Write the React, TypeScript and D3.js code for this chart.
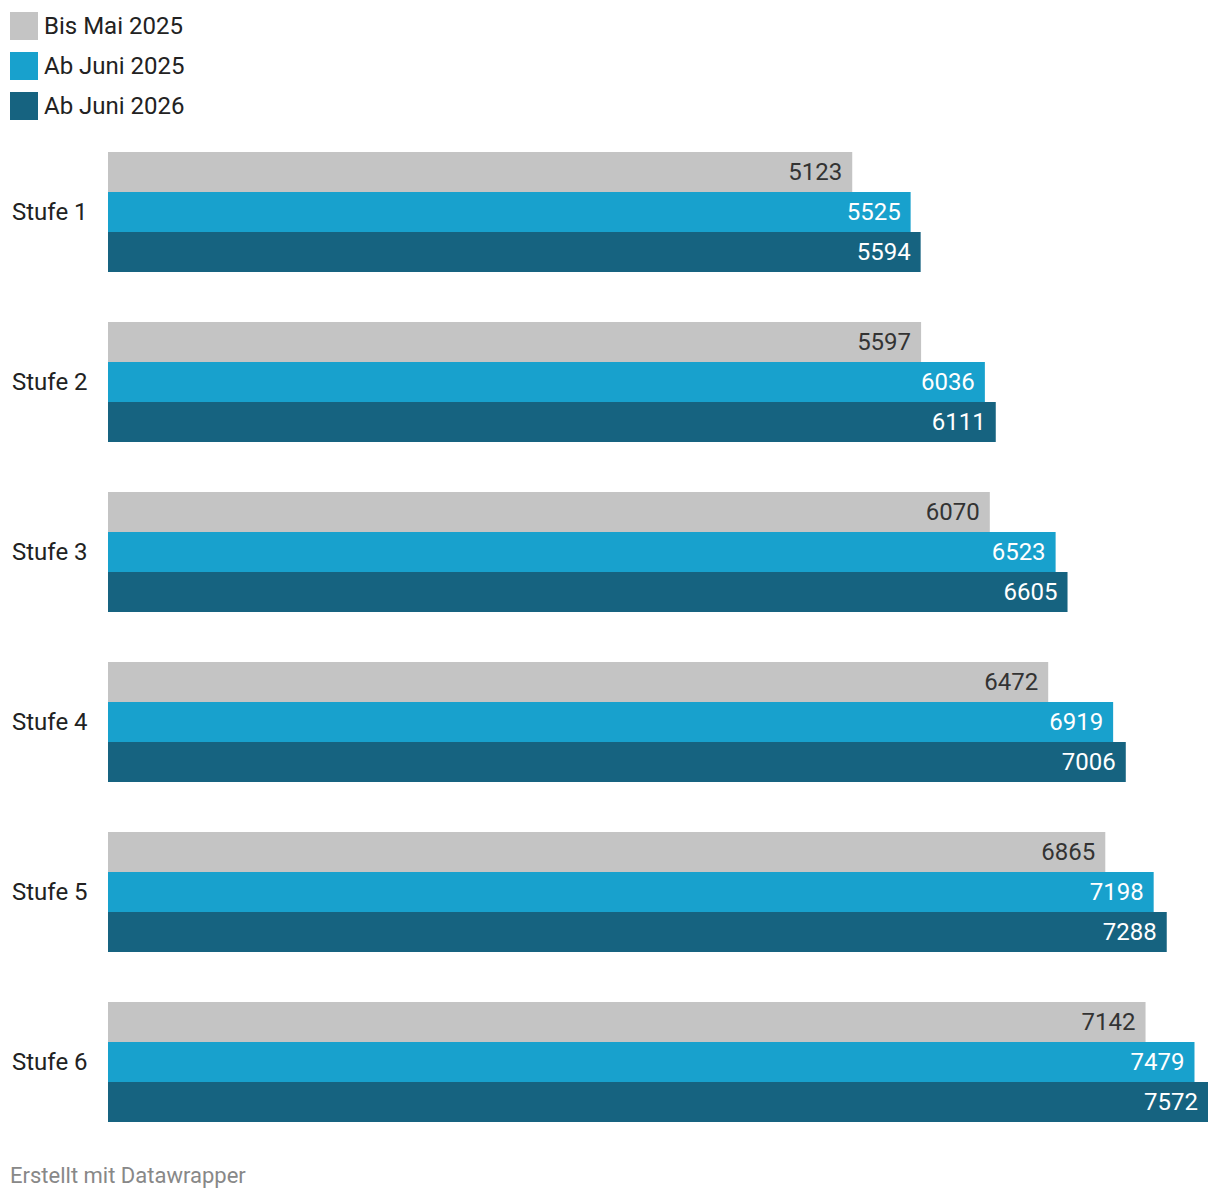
import React, { useEffect, useRef } from "react";
import * as d3 from "d3";

const categories = ["Stufe 1", "Stufe 2", "Stufe 3", "Stufe 4", "Stufe 5", "Stufe 6"];
const seriesNames = ["Bis Mai 2025", "Ab Juni 2025", "Ab Juni 2026"];
const bisMai2025 = [5123, 5597, 6070, 6472, 6865, 7142];
const abJuni2025 = [5525, 6036, 6523, 6919, 7198, 7479];
const abJuni2026 = [5594, 6111, 6605, 7006, 7288, 7572];
const seriesColors = ["#c4c4c4", "#18a1cd", "#166380"];
const labelColors = ["#333333", "#ffffff", "#ffffff"];

const FONT = "Roboto, 'Noto Sans', sans-serif";

export default function App() {
  const ref = useRef<SVGSVGElement>(null);

  useEffect(() => {
    document.body.style.margin = "0";
    const svg = d3.select(ref.current);
    svg.selectAll("*").remove();

    const width = 1220,
      height = 1200;
    const left = 108,
      right = 1208;
    const barH = 40;
    const allSeries = [bisMai2025, abJuni2025, abJuni2026];

    const x = d3.scaleLinear().domain([0, d3.max(abJuni2026)!]).range([left, right]);
    // each group: 3 bars of 40px + 50px gap -> step 170
    const y = d3.scaleBand().domain(categories).range([152, 1122 + 50]);

    svg.attr("width", width).attr("height", height);

    // legend
    const legend = svg.append("g");
    seriesNames.forEach((name, i) => {
      legend
        .append("rect")
        .attr("x", 10)
        .attr("y", 12 + i * 40)
        .attr("width", 28)
        .attr("height", 28)
        .attr("fill", seriesColors[i]);
      legend
        .append("text")
        .attr("x", 44)
        .attr("y", 26 + i * 40)
        .attr("dy", "0.35em")
        .attr("font-family", FONT)
        .attr("font-size", 24)
        .attr("fill", "#222")
        .text(name);
    });

    const groups = svg
      .selectAll("g.group")
      .data(categories)
      .enter()
      .append("g")
      .attr("class", "group")
      .attr("transform", (d) => "translate(0," + y(d) + ")");

    groups
      .append("text")
      .attr("x", 12)
      .attr("y", barH * 1.5)
      .attr("dy", "0.35em")
      .attr("font-family", FONT)
      .attr("font-size", 24)
      .attr("fill", "#222")
      .text((d) => d);

    allSeries.forEach((vals, si) => {
      groups
        .append("rect")
        .attr("x", left)
        .attr("y", si * barH)
        .attr("width", (d, i) => x(vals[i]) - left)
        .attr("height", barH)
        .attr("fill", seriesColors[si]);
      groups
        .append("text")
        .attr("x", (d, i) => x(vals[i]) - 10)
        .attr("y", si * barH + barH / 2)
        .attr("dy", "0.35em")
        .attr("text-anchor", "end")
        .attr("font-family", FONT)
        .attr("font-size", 24)
        .attr("fill", labelColors[si])
        .text((d, i) => String(vals[i]));
    });

    svg
      .append("text")
      .attr("x", 10)
      .attr("y", 1175)
      .attr("dy", "0.35em")
      .attr("font-family", FONT)
      .attr("font-size", 22)
      .attr("fill", "#888")
      .text("Erstellt mit Datawrapper");
  }, []);

  return <svg ref={ref} style={{ display: "block" }}></svg>;
}
